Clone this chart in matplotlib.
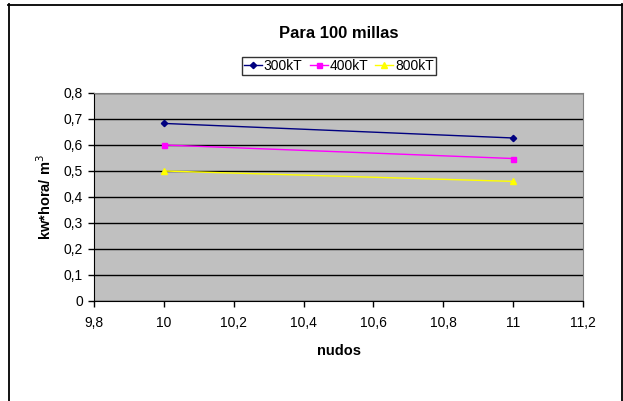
import matplotlib.pyplot as plt
from matplotlib.lines import Line2D
from matplotlib.ticker import FuncFormatter, MultipleLocator

plt.rcParams['font.family'] = ['Liberation Sans', 'DejaVu Sans']

# knots vs energy per cubic metre, one series per ship size
nudos = [10, 11]
series_names = ["300kT", "400kT", "800kT"]
v300 = [0.683, 0.627]
v400 = [0.600, 0.548]
v800 = [0.500, 0.460]

W, H = 623, 401
fig = plt.figure(figsize=(W / 100, H / 100), dpi=100)
ax = fig.add_axes([94 / W, 1 - 301 / H, 489 / W, 208 / H])
ax.set_facecolor("#C0C0C0")

styles = [("#000080", "D", 3.2), ("#FF00FF", "s", 3.6), ("#FFFF00", "^", 4)]
for name, vals, (col, mk, ms) in zip(series_names, [v300, v400, v800], styles):
    ax.plot(nudos, vals, color=col, marker=mk, markersize=ms, lw=1, label=name, zorder=3)

ax.set_xlim(9.8, 11.2)
ax.set_ylim(0, 0.8)
ax.xaxis.set_major_locator(MultipleLocator(0.2))
ax.yaxis.set_major_locator(MultipleLocator(0.1))
comma = FuncFormatter(lambda v, p: ("%g" % round(v, 2)).replace(".", ","))
ax.xaxis.set_major_formatter(comma)
ax.yaxis.set_major_formatter(comma)
ax.yaxis.grid(True, color="black", lw=1)
ax.set_axisbelow(True)
ax.tick_params(direction="out", length=4, width=1, labelsize=10, colors="black")
ax.tick_params(axis="x", pad=7)
ax.tick_params(axis="y", pad=4)

for s in ("top", "right"):
    ax.spines[s].set_color("#808080")
for s in ("left", "bottom"):
    ax.spines[s].set_color("black")

ax.set_xlabel("nudos", fontsize=10.5, fontweight="bold", labelpad=10)
ax.set_ylabel("kw*hora/ m$^3$", fontsize=10.5, fontweight="bold", labelpad=7)
fig.text(339 / W, 1 - 33 / H, "Para 100 millas", ha="center", va="center",
         fontsize=12, fontweight="bold")

leg = fig.legend(loc="center", bbox_to_anchor=(339 / W, 1 - 66 / H), ncol=3,
                 fontsize=10, frameon=True, fancybox=False, handlelength=1.3,
                 handletextpad=0.15, columnspacing=0.5, borderpad=0.15,
                 borderaxespad=0)
leg.get_frame().set_edgecolor("black")
leg.get_frame().set_linewidth(1)

# outer frame: top, left and right edges
fx = lambda px: px / W
fy = lambda py: 1 - py / H
for xs, ys in [((8, W), (4.5, 4.5)), ((8.5, 8.5), (4, H)), ((622, 622), (4, H))]:
    fig.lines.append(Line2D([fx(x) for x in xs], [fy(y) for y in ys],
                            transform=fig.transFigure, color="black", lw=1.3))

fig.savefig("out.png", dpi=100)
